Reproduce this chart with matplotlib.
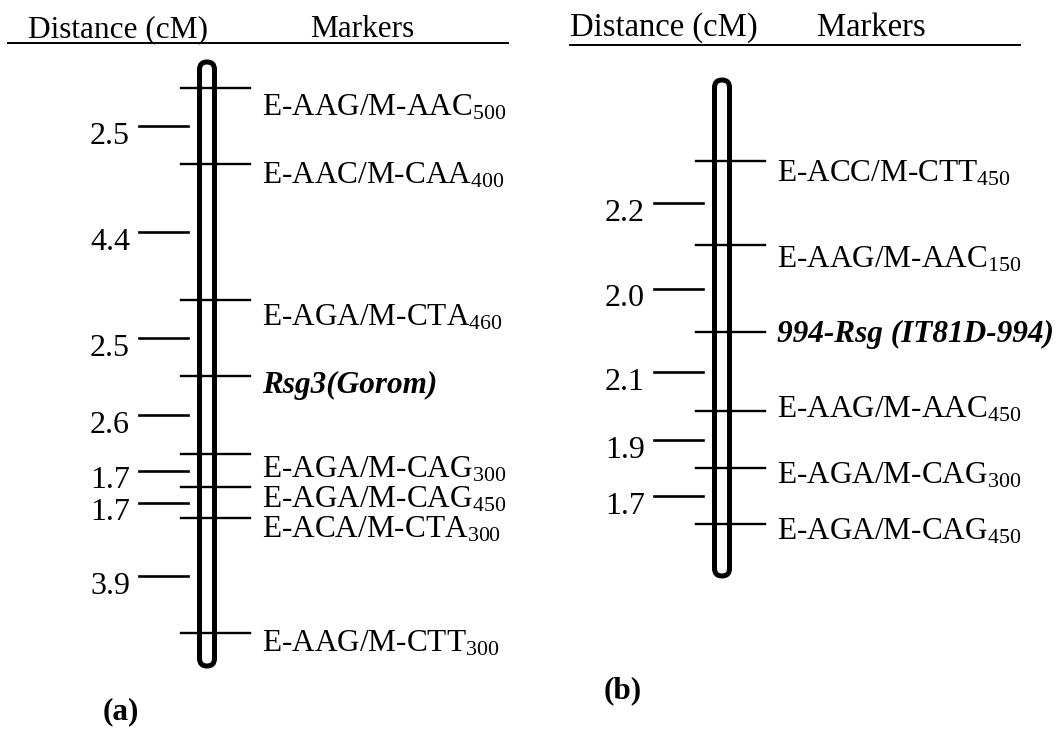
import matplotlib.pyplot as plt
from matplotlib.patches import FancyBboxPatch

plt.rcParams['font.family'] = ['Liberation Serif', 'DejaVu Serif']
plt.rcParams['mathtext.fontset'] = 'custom'
plt.rcParams['mathtext.rm'] = 'Liberation Serif'
plt.rcParams['mathtext.it'] = 'Liberation Serif:italic'
plt.rcParams['mathtext.bf'] = 'Liberation Serif:bold'

# panel (a): markers top to bottom, map positions
markers_a = ['E-AAG/M-AAC', 'E-AAC/M-CAA', 'E-AGA/M-CTA', 'Rsg3(Gorom)',
             'E-AGA/M-CAG', 'E-AGA/M-CAG', 'E-ACA/M-CTA', 'E-AAG/M-CTT']
sizes_a = ['500', '400', '460', '', '300', '450', '300', '300']
pos_a = [88, 164, 300, 376, 454, 487, 518, 633]
dist_a = [2.5, 4.4, 2.5, 2.6, 1.7, 1.7, 3.9]
gene_a = 'Rsg3(Gorom)'

# panel (b)
markers_b = ['E-ACC/M-CTT', 'E-AAG/M-AAC', '994-Rsg (IT81D-994)',
             'E-AAG/M-AAC', 'E-AGA/M-CAG', 'E-AGA/M-CAG']
sizes_b = ['450', '150', '', '450', '300', '450']
pos_b = [161, 245, 332, 411, 468, 524]
dist_b = [2.2, 2.0, 2.1, 1.9, 1.7]
gene_b = '994-Rsg (IT81D-994)'


def draw_panel(ax, xc, names, subs, pos, dist, gene, top, bottom,
               text_dy, head_x, head_y, head_size, line_x, line_y,
               tag, tag_xy):
    # chromosome outline
    w = 15
    chrom = FancyBboxPatch((xc - w / 2, top), w, bottom - top,
                           boxstyle='round,pad=0,rounding_size=7.5',
                           fc='white', ec='black', lw=3.6, zorder=2)
    ax.add_patch(chrom)

    for i, (name, sub, y) in enumerate(zip(names, subs, pos)):
        ax.plot([xc - 26, xc + 43], [y, y], color='black', lw=1.7, zorder=3)
        if name == gene:
            ax.text(xc + 55, y + text_dy[i], name, fontsize=22.5,
                    fontweight='bold', fontstyle='italic', va='baseline')
        else:
            ax.text(xc + 55, y + text_dy[i],
                    name + r'$_{\mathregular{' + sub + '}}$',
                    fontsize=22.5, va='baseline')

    # distances sit halfway between neighbouring markers
    for d, y0, y1 in zip(dist, pos[:-1], pos[1:]):
        y = (y0 + y1) / 2
        ax.plot([xc - 68, xc - 19], [y, y], color='black', lw=1.9)
        ax.text(xc - 77, y + 18, f'{d:.1f}', fontsize=23,
                ha='right', va='baseline')

    ax.text(head_x[0], head_y, 'Distance (cM)', fontsize=head_size,
            va='baseline')
    ax.text(head_x[1], head_y, 'Markers', fontsize=head_size, va='baseline')
    ax.plot(line_x, [line_y, line_y], color='black', lw=1.4)
    ax.text(tag_xy[0], tag_xy[1], tag, fontsize=22.5, fontweight='bold',
            ha='center', va='center')


fig = plt.figure(figsize=(10.6, 7.3), dpi=100)
ax = fig.add_axes([0, 0, 1, 1])
ax.set_xlim(0, 1060)
ax.set_ylim(730, 0)
ax.axis('off')

draw_panel(ax, 207, markers_a, sizes_a, pos_a, dist_a, gene_a, 62, 666,
           [27, 19, 25, 17, 23, 21, 19, 19], (28, 310), 37, 22.5,
           (8, 508), 43, '(a)', (121, 712))
draw_panel(ax, 722, markers_b, sizes_b, pos_b, dist_b, gene_b, 80, 576,
           [21, 22, 10, 6, 15, 16], (570, 817), 36, 23.5,
           (570, 1020), 45, '(b)', (623, 691))

fig.savefig('out.png', dpi=100, facecolor='white')
plt.close(fig)
